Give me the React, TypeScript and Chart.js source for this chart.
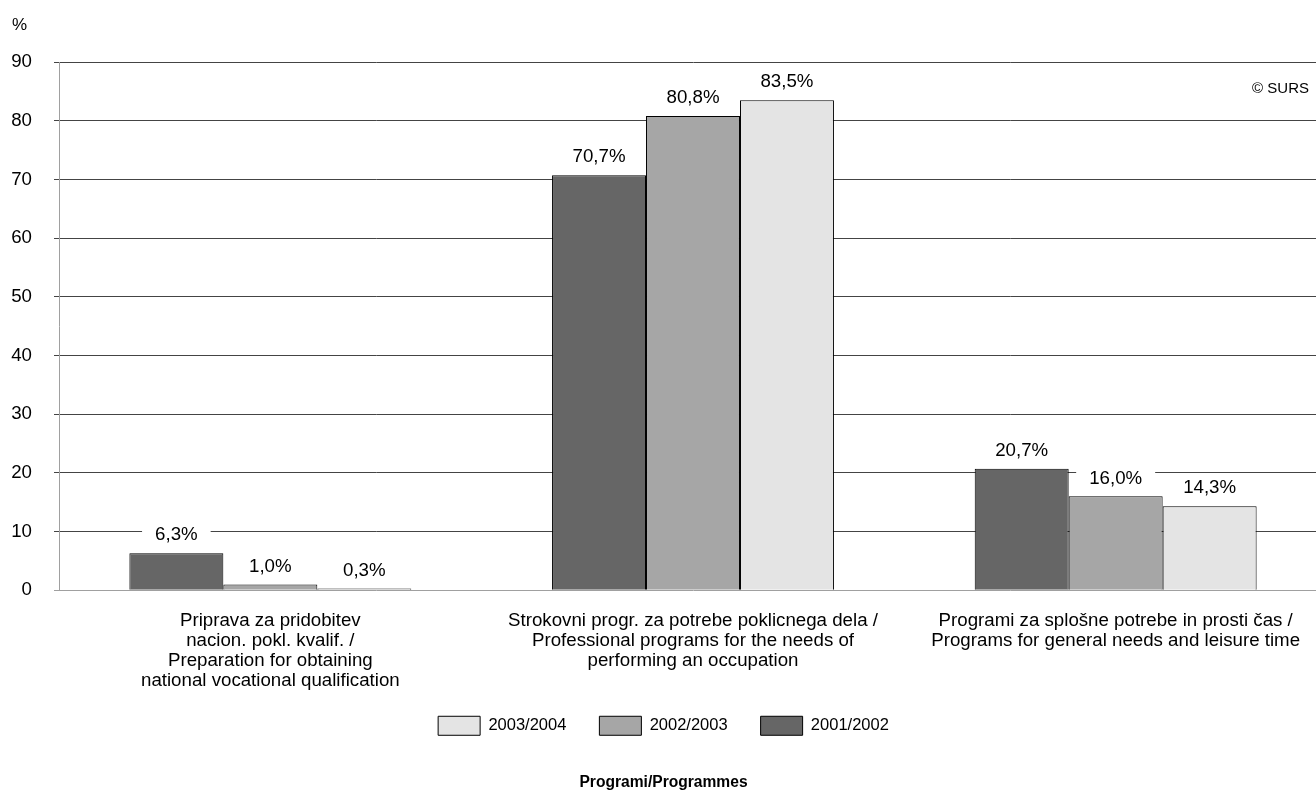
import React, { useEffect, useRef } from "react";
import { Chart, registerables } from "chart.js";

Chart.register(...registerables);

const categories: string[][] = [
  ["Priprava za pridobitev", "nacion. pokl. kvalif. /", "Preparation for obtaining", "national vocational qualification"],
  ["Strokovni progr. za potrebe poklicnega dela /", "Professional programs for the needs of", "performing an occupation"],
  ["Programi za splošne potrebe in prosti čas /", "Programs for general needs and leisure time"],
];
const seriesNames = ["2001/2002", "2002/2003", "2003/2004"];
const values2001 = [6.3, 70.7, 20.7];
const values2002 = [1.0, 80.8, 16.0];
const values2003 = [0.3, 83.5, 14.3];
const seriesColors = ["#666666", "#a6a6a6", "#e4e4e4"];
const yMin = 0;
const yMax = 90;
const yStep = 10;
const yUnit = "%";
const sourceText = "© SURS";
const axisTitle = "Programi/Programmes";

const FONT = '"Liberation Sans", Arial, sans-serif';
const FS = 18.7;

const fmt = (v: number) => v.toFixed(1).replace(".", ",") + "%";

const labelPlugin = {
  id: "barLabels",
  afterDatasetsDraw(chart: any) {
    const ctx = chart.ctx;
    ctx.save();
    ctx.font = `${FS}px ${FONT}`;
    ctx.textAlign = "center";
    ctx.textBaseline = "middle";
    const items: any[] = [];
    chart.data.datasets.forEach((ds: any, di: number) => {
      const meta = chart.getDatasetMeta(di);
      meta.data.forEach((el: any, i: number) => {
        const t = fmt(ds.data[i]);
        items.push({ x: el.x, y: el.y - 18, t });
      });
    });
    ctx.fillStyle = "#ffffff";
    items.forEach((it) => {
      const w = ctx.measureText(it.t).width + 26;
      ctx.fillRect(it.x - w / 2, it.y - 10, w, 20);
    });
    ctx.fillStyle = "#000000";
    items.forEach((it) => ctx.fillText(it.t, it.x, it.y));
    ctx.restore();
  },
  afterDraw(chart: any) {
    const ctx = chart.ctx;
    ctx.save();
    ctx.fillStyle = "#000";
    ctx.textBaseline = "middle";
    ctx.font = `17px ${FONT}`;
    ctx.textAlign = "left";
    ctx.fillText(yUnit, 12, 25);
    ctx.font = `15px ${FONT}`;
    ctx.textAlign = "right";
    ctx.fillText(sourceText, 1309, 89);
    ctx.restore();
  },
};

export default function App() {
  const ref = useRef<HTMLCanvasElement | null>(null);
  useEffect(() => {
    document.body.style.margin = "0";
    document.body.style.overflow = "hidden";
    document.documentElement.style.overflow = "hidden";
    const chart = new Chart(ref.current as HTMLCanvasElement, {
      type: "bar",
      data: {
        labels: categories,
        datasets: [
          { label: seriesNames[0], data: values2001, backgroundColor: seriesColors[0], borderColor: "#000", borderWidth: 1 },
          { label: seriesNames[1], data: values2002, backgroundColor: seriesColors[1], borderColor: "#000", borderWidth: 1 },
          { label: seriesNames[2], data: values2003, backgroundColor: seriesColors[2], borderColor: "#000", borderWidth: 1 },
        ],
      },
      options: {
        animation: false,
        responsive: true,
        maintainAspectRatio: false,
        layout: { padding: { top: 62, left: 0, right: 0, bottom: 0 } },
        datasets: { bar: { categoryPercentage: 0.667, barPercentage: 1 } } as any,
        plugins: {
          legend: {
            position: "bottom",
            reverse: true,
            title: {
              display: true,
              text: "",
              padding: { top: -10, bottom: 0 },
              font: { family: FONT, size: 1, lineHeight: 1 },
            },
            labels: {
              boxWidth: 42,
              boxHeight: 19,
              padding: 33,
              color: "#000",
              font: { family: FONT, size: 16.5 },
            },
          },
          title: {
            display: true,
            position: "bottom",
            text: axisTitle,
            color: "#000",
            font: { family: FONT, size: 15.6, weight: "bold" },
            padding: { top: 28, bottom: 0 },
          },
          tooltip: { enabled: false },
        },
        scales: {
          x: {
            grid: { display: false, drawTicks: false },
            border: { display: false },
            ticks: {
              color: "#000",
              padding: 21,
              maxRotation: 0,
              autoSkip: false,
              font: { family: FONT, size: FS, lineHeight: 20 / FS },
            },
            afterFit: (s: any) => {
              s.height = 102;
            },
          },
          y: {
            min: yMin,
            max: yMax,
            ticks: {
              stepSize: yStep,
              color: "#000",
              padding: 22,
              font: { family: FONT, size: FS },
            },
            grid: {
              tickLength: 5,
              color: (c: any) => (c.tick && c.tick.value === 0 ? "#a0a0a0" : "#444444"),
              lineWidth: 1,
            },
            border: { display: true, color: "#a0a0a0", width: 1 },
            afterFit: (s: any) => {
              s.width = 59;
            },
          },
        },
      },
      plugins: [labelPlugin],
    } as any);
    return () => chart.destroy();
  }, []);
  return (
    <div style={{ position: "absolute", left: 0, top: 0, width: 1327, height: 792 }}>
      <canvas ref={ref} />
    </div>
  );
}
